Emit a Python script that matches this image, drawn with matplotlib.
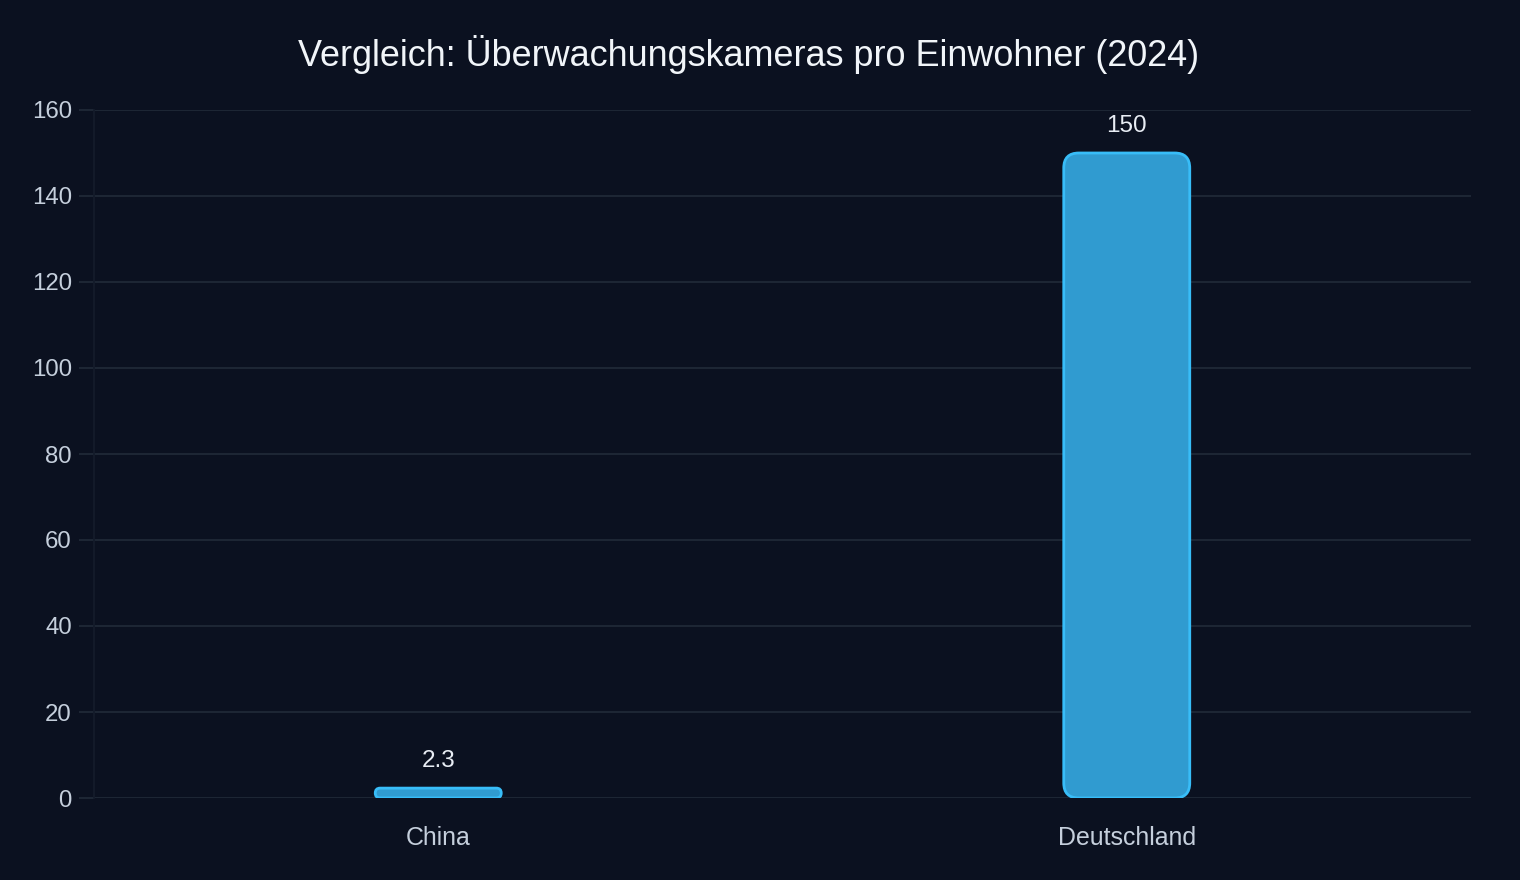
import matplotlib.pyplot as plt
from matplotlib.patches import FancyBboxPatch

# data
laender = ['China', 'Deutschland']
kameras = [2.3, 150]
wert_labels = ['2.3', '150']
yticks = [0, 20, 40, 60, 80, 100, 120, 140, 160]

bg = '#0b1120'
grid_col = '#1f2937'
fill_col = '#309bd0'
edge_col = '#38bdf8'

plt.rcParams['font.family'] = ['Liberation Sans', 'DejaVu Sans']

fig = plt.figure(figsize=(15.2, 8.8), dpi=100, facecolor=bg)
ax = fig.add_axes([94 / 1520, 82 / 880, (1471 - 94) / 1520, (798 - 110) / 880])
ax.set_facecolor(bg)

x = list(range(len(laender)))
bar_w = 0.183
bars = ax.bar(x, kameras, width=bar_w, color='none', edgecolor='none')

ax.set_xlim(-0.5, len(laender) - 0.5)
ax.set_ylim(0, 160)

# px per data unit, for rounded corners
px_x = (1471 - 94) / 2.0
px_y = (798 - 110) / 160.0
aspect = px_x / px_y
for b, lab in zip(bars, wert_labels):
    h = b.get_height()
    r_px = min(15, h * px_y / 2, bar_w * px_x / 2)
    p = FancyBboxPatch((b.get_x(), b.get_y()), b.get_width(), h,
                       boxstyle=f'round,pad=0,rounding_size={r_px / px_x}',
                       mutation_aspect=aspect,
                       facecolor=fill_col, edgecolor=edge_col, linewidth=2.0,
                       zorder=3)
    ax.add_patch(p)
    ax.annotate(lab, (b.get_x() + b.get_width() / 2, h), xytext=(0, 16),
                textcoords='offset pixels', ha='center', va='bottom',
                color='#e8edf4', fontsize=17.5, zorder=4)

ax.set_yticks(yticks)
ax.set_yticklabels([str(t) for t in yticks])
ax.set_xticks(x)
ax.set_xticklabels(laender)
ax.grid(axis='y', color=grid_col, linewidth=1.3, zorder=0)
ax.set_axisbelow(True)
ax.tick_params(axis='y', length=11, width=1.3, color=grid_col, colors='#c5cfdc',
               labelsize=17.3, pad=5)
ax.tick_params(axis='x', length=0, colors='#c5cfdc', labelsize=17.9, pad=20)
for s in ['top', 'right', 'bottom']:
    ax.spines[s].set_visible(False)
ax.spines['left'].set_color('#141c2b')
ax.spines['left'].set_linewidth(1.3)

fig.text(749 / 1520, 1 - 55 / 880,
         'Vergleich: Überwachungskameras pro Einwohner (2024)',
         ha='center', va='center', color='#f1f5f9', fontsize=25.9)

fig.savefig('out.png', dpi=100, facecolor=bg)
